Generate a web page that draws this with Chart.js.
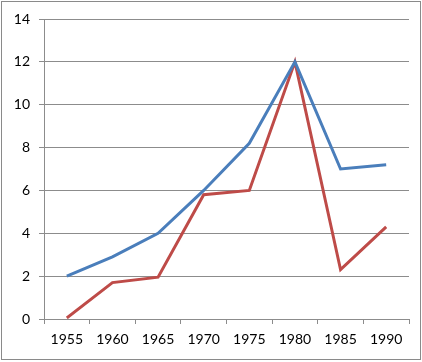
<!DOCTYPE html>
<html>
<head>
<meta charset="utf-8">
<script src="https://cdn.jsdelivr.net/npm/chart.js@4/dist/chart.umd.min.js"></script>
<style>
  html, body { margin: 0; padding: 0; background: #fff; }
  canvas { display: block; }
</style>
</head>
<body>
<canvas id="chart" width="422" height="362"></canvas>
<script>
// Dados do gráfico
const years = ['1955', '1960', '1965', '1970', '1975', '1980', '1985', '1990'];
const blueValues = [2.0, 2.9, 4.0, 6.0, 8.2, 12.0, 7.0, 7.2];
const redValues = [0.05, 1.7, 1.95, 5.8, 6.0, 12.0, 2.3, 4.3];

const gridColor = '#8c8c8c';
const labelFont = { family: 'Lato, "Open Sans", sans-serif', size: 14 };

// Moldura externa
const framePlugin = {
  id: 'frame',
  afterDraw(chart) {
    const ctx = chart.ctx;
    ctx.save();
    ctx.strokeStyle = '#8a8a8a';
    ctx.lineWidth = 1;
    ctx.strokeRect(1.5, 1.5, chart.width - 3, chart.height - 4);
    ctx.restore();
  }
};

new Chart(document.getElementById('chart').getContext('2d'), {
  type: 'line',
  data: {
    labels: years,
    datasets: [
      {
        data: blueValues,
        borderColor: '#4a7ebb',
        borderWidth: 3,
        pointRadius: 0,
        tension: 0
      },
      {
        data: redValues,
        borderColor: '#be4b48',
        borderWidth: 3,
        pointRadius: 0,
        tension: 0
      }
    ]
  },
  options: {
    responsive: false,
    animation: false,
    layout: { padding: { left: 0, top: 19, right: 13, bottom: 0 } },
    plugins: {
      legend: { display: false },
      tooltip: { enabled: false }
    },
    scales: {
      x: {
        offset: true,
        grid: {
          offset: true,
          drawOnChartArea: false,
          drawTicks: true,
          tickLength: 5,
          color: gridColor
        },
        border: { color: gridColor },
        ticks: { color: '#000', font: labelFont, padding: 7, maxRotation: 0 },
        afterFit(scale) { scale.height = 43; }
      },
      y: {
        min: 0,
        max: 14,
        grid: {
          color: gridColor,
          tickLength: 5
        },
        border: { color: gridColor },
        ticks: { stepSize: 2, color: '#000', font: labelFont, padding: 9 },
        afterFit(scale) { scale.width = 44; }
      }
    }
  },
  plugins: [framePlugin]
});
</script>
</body>
</html>
